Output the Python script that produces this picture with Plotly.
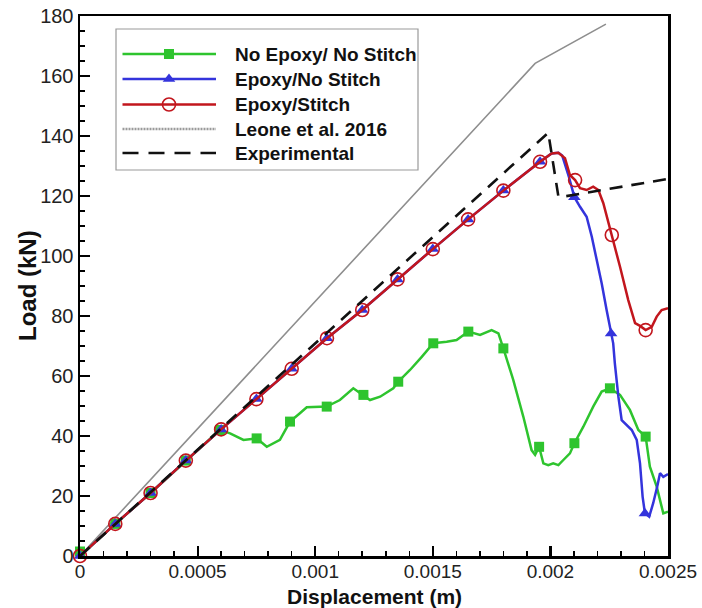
import plotly.graph_objects as go

# ---------------- data ----------------
red_x = [0, 0.00015, 0.0003, 0.00045, 0.0006, 0.00075, 0.0009, 0.00105, 0.0012, 0.00135,
         0.0015, 0.00165, 0.0018, 0.001956, 0.002005, 0.002034, 0.002062, 0.002083, 0.002105,
         0.002126, 0.002154, 0.002182, 0.002204, 0.002225, 0.002261, 0.002296, 0.002331,
         0.00236, 0.002381, 0.002405, 0.002431, 0.002452, 0.002473, 0.0025]
red_y = [0, 10.7, 21, 31.8, 42.2, 52.3, 62.4, 72.6, 82, 92.2,
         102.3, 112.2, 121.8, 131.4, 134.2, 134.4, 132.6, 127, 125.3,
         122.6, 122, 123.1, 122, 117.6, 107, 96.4, 85.3,
         77.6, 76.7, 75.3, 76.4, 79.8, 82, 82.6]
red_mx = [0, 0.00015, 0.0003, 0.00045, 0.0006, 0.00075, 0.0009, 0.00105, 0.0012, 0.00135,
          0.0015, 0.00165, 0.0018, 0.001956, 0.002105, 0.002261, 0.002405]
red_my = [0, 10.7, 21, 31.8, 42.2, 52.3, 62.4, 72.6, 82, 92.2,
          102.3, 112.2, 121.8, 131.4, 125.3, 107, 75.3]

blue_x = [0, 0.00015, 0.0003, 0.00045, 0.0006, 0.00075, 0.0009, 0.00105, 0.0012, 0.00135,
          0.0015, 0.00165, 0.0018, 0.001956, 0.002005, 0.002034, 0.00205, 0.00208, 0.002102,
          0.002126, 0.002154, 0.002176, 0.002197, 0.002218, 0.002239, 0.002258, 0.002267,
          0.002274, 0.002289, 0.002303, 0.002324, 0.002346, 0.002367, 0.002381, 0.002392,
          0.002402, 0.00242, 0.002437, 0.002454, 0.002466, 0.00248, 0.0025]
blue_y = [0, 10.7, 21, 31.8, 42.2, 52.3, 62.4, 72.6, 82, 92.2,
          102.3, 112.2, 121.8, 131.4, 134.2, 134.4, 133.5, 126, 119.6,
          116.4, 113.1, 106.4, 98.7, 90.9, 82, 74.2, 70.9,
          64.2, 53.1, 45.3, 43.7, 42, 38.7, 30.9, 19.8,
          14.2, 13.1, 17.6, 23.1, 27.6, 26.4, 27.3]
blue_mx = [0, 0.00015, 0.0003, 0.00045, 0.0006, 0.00075, 0.0009, 0.00105, 0.0012, 0.00135,
           0.0015, 0.00165, 0.0018, 0.001956, 0.002102, 0.002258, 0.002402]
blue_my = [0, 10.7, 21, 31.8, 42.2, 52.3, 62.4, 72.6, 82, 92.2,
           102.3, 112.2, 121.8, 131.4, 119.6, 74.2, 14.2]

green_x = [0, 0.00015, 0.0003, 0.00045, 0.000595, 0.000638, 0.000695, 0.000751, 0.000794,
           0.00085, 0.000893, 0.000935, 0.000964, 0.001049, 0.001105, 0.001162, 0.001205,
           0.001233, 0.001276, 0.001332, 0.001353, 0.001403, 0.001453, 0.001502, 0.001559,
           0.001601, 0.001651, 0.001701, 0.00175, 0.001779, 0.0018, 0.001842, 0.001885,
           0.00192, 0.001935, 0.001952, 0.00197, 0.001991, 0.002012, 0.002034, 0.002055,
           0.002083, 0.002102, 0.00214, 0.002182, 0.002218, 0.002253, 0.002296, 0.002338,
           0.002374, 0.002405, 0.002423, 0.002452, 0.00248, 0.0025]
green_y = [0, 10.7, 21, 31.8, 42, 40.9, 38.7, 39.2, 36.4,
           38.7, 44.8, 47.6, 49.6, 49.8, 52, 55.9, 53.7,
           52, 53.1, 55.9, 58.1, 62, 66.4, 70.9, 71.4,
           72, 74.8, 73.7, 75.3, 74.2, 69.2, 58.7, 46.4,
           35.3, 33.7, 36.4, 30.9, 30.3, 30.9, 30.3, 32,
           34.2, 37.6, 43.1, 49.8, 54.8, 55.9, 53.7, 48.7,
           42, 39.8, 29.8, 23.1, 14.2, 14.8]
green_mx = [0, 0.00015, 0.0003, 0.00045, 0.000595, 0.000751, 0.000893, 0.001049, 0.001205,
            0.001353, 0.001502, 0.001651, 0.0018, 0.001952, 0.002102, 0.002253, 0.002405]
green_my = [1.5, 10.7, 21, 31.8, 42, 39.2, 44.8, 49.8, 53.7,
            58.1, 70.9, 74.8, 69.2, 36.4, 37.6, 55.9, 39.8]

leone_x = [0, 0.001935, 0.002236]
leone_y = [0, 164.2, 177.3]

exp_x = [0, 0.001991, 0.002034, 0.002041, 0.0025]
exp_y = [0, 141.1, 119.8, 119.6, 125.7]

x_ticks = [0, 0.0005, 0.001, 0.0015, 0.002, 0.0025]
x_ticktext = ["0", "0.0005", "0.001", "0.0015", "0.002", "0.0025"]
y_ticks = [0, 20, 40, 60, 80, 100, 120, 140, 160, 180]

legend_names = ["No Epoxy/ No Stitch", "Epoxy/No Stitch", "Epoxy/Stitch",
                "Leone et al. 2016", "Experimental"]
x_title = "Displacement (m)"
y_title = "Load (kN)"

# ---------------- styles ----------------
GREEN = "#2ec42e"
BLUE = "#3434dc"
RED = "#c2161d"
GRAY = "#8e8e8e"
BLACK = "#111111"
FONT = "Liberation Sans, Arial, sans-serif"
DASH = "13px,9px"

fig = go.Figure()

fig.add_trace(go.Scatter(x=leone_x, y=leone_y, mode="lines",
                         line=dict(color=GRAY, width=1.6), showlegend=False))
fig.add_trace(go.Scatter(x=green_x, y=green_y, mode="lines",
                         line=dict(color=GREEN, width=2.5), showlegend=False))
fig.add_trace(go.Scatter(x=green_mx, y=green_my, mode="markers", cliponaxis=False,
                         marker=dict(symbol="square", size=10, color=GREEN), showlegend=False))
fig.add_trace(go.Scatter(x=blue_x, y=blue_y, mode="lines",
                         line=dict(color=BLUE, width=2.5), showlegend=False))
fig.add_trace(go.Scatter(x=blue_mx, y=blue_my, mode="markers", cliponaxis=False,
                         marker=dict(symbol="triangle-up", size=11, color=BLUE), showlegend=False))
fig.add_trace(go.Scatter(x=red_x, y=red_y, mode="lines",
                         line=dict(color=RED, width=2.5), showlegend=False))
fig.add_trace(go.Scatter(x=red_mx, y=red_my, mode="markers", cliponaxis=False,
                         marker=dict(symbol="circle-open", size=13, color=RED,
                                     line=dict(width=1.6)), showlegend=False))
fig.add_trace(go.Scatter(x=exp_x, y=exp_y, mode="lines",
                         line=dict(color=BLACK, width=2.6, dash=DASH), showlegend=False))

# ---------------- hand-drawn legend (overlay axes in page-pixel units) ----------------
L_X0, L_X1, L_MID, L_TXT = 122.5, 216, 169, 233
rows = [54, 79, 104.5, 129, 153]
styles = [
    dict(line=dict(color=GREEN, width=2.5), marker=dict(symbol="square", size=10, color=GREEN)),
    dict(line=dict(color=BLUE, width=2.5), marker=dict(symbol="triangle-up", size=11, color=BLUE)),
    dict(line=dict(color=RED, width=2.5), marker=dict(symbol="circle-open", size=13, color=RED,
                                                       line=dict(width=1.6))),
    dict(line=dict(color="#9a9a9a", width=2.4, dash="2px,1px"), marker=None),
    dict(line=dict(color=BLACK, width=2.6, dash="16px,10px"), marker=None),
]
for ry, st in zip(rows, styles):
    fig.add_trace(go.Scatter(x=[L_X0, L_X1], y=[ry, ry], mode="lines", line=st["line"],
                             xaxis="x2", yaxis="y2", showlegend=False, hoverinfo="skip"))
    if st["marker"] is not None:
        fig.add_trace(go.Scatter(x=[L_MID], y=[ry], mode="markers", marker=st["marker"],
                                 xaxis="x2", yaxis="y2", showlegend=False, hoverinfo="skip"))

annotations = []
for ry, name in zip(rows, legend_names):
    annotations.append(dict(x=L_TXT, y=ry, xref="x2", yref="y2", text=name, showarrow=False,
                            xanchor="left", yanchor="middle",
                            font=dict(family=FONT, size=19, color="#111", weight="bold")))
# axis titles
annotations.append(dict(x=0.5, y=0, xref="paper", yref="paper", yshift=-40.5, text=x_title,
                        showarrow=False, xanchor="center", yanchor="middle",
                        font=dict(family=FONT, size=21, color="#111", weight="bold")))
annotations.append(dict(x=0, y=0.5, xref="paper", yref="paper", xshift=-53, text=y_title,
                        textangle=-90, showarrow=False, xanchor="center", yanchor="middle",
                        font=dict(family=FONT, size=24, color="#111", weight="bold")))

shapes = [dict(type="rect", xref="x2", yref="y2", x0=116, x1=418, y0=29, y1=170,
               line=dict(color="#9a9a9a", width=1.2), fillcolor="rgba(0,0,0,0)", layer="below")]

axis_common = dict(showgrid=False, zeroline=False, showline=True, linecolor="black",
                   linewidth=2.5, mirror=True, ticks="inside", ticklen=10, tickwidth=2.2,
                   tickcolor="black", automargin=False, ticklabeloverflow="allow")

fig.update_layout(
    width=702, height=608,
    margin=dict(l=80, r=34, t=16, b=52),
    paper_bgcolor="white", plot_bgcolor="white",
    showlegend=False,
    font=dict(family=FONT),
    xaxis=dict(range=[0, 0.0025], tickvals=x_ticks, ticktext=x_ticktext,
               minor=dict(ticks="inside", ticklen=5, tickwidth=1.5, dtick=0.0001,
                          tickcolor="black"),
               ticklabelstandoff=-3,
               tickfont=dict(family=FONT, size=19, color="#222"),
               **axis_common),
    yaxis=dict(range=[0, 180], tickvals=y_ticks,
               minor=dict(ticks="inside", ticklen=5, tickwidth=1.5, dtick=5,
                          tickcolor="black"),
               ticklabelstandoff=0,
               tickfont=dict(family=FONT, size=20, color="#222"),
               **axis_common),
    xaxis2=dict(overlaying="x", range=[80, 668], visible=False, fixedrange=True),
    yaxis2=dict(overlaying="y", range=[556, 16], visible=False, fixedrange=True, anchor="x2"),
    annotations=annotations,
    shapes=shapes,
)

# remove the browser's default 8px page margin so the 702x608 figure fills the window
fig.write_html("out.html",
               config={"displayModeBar": False, "staticPlot": True},
               post_script="document.body.style.margin='0';"
                           "document.documentElement.style.overflow='hidden';")
